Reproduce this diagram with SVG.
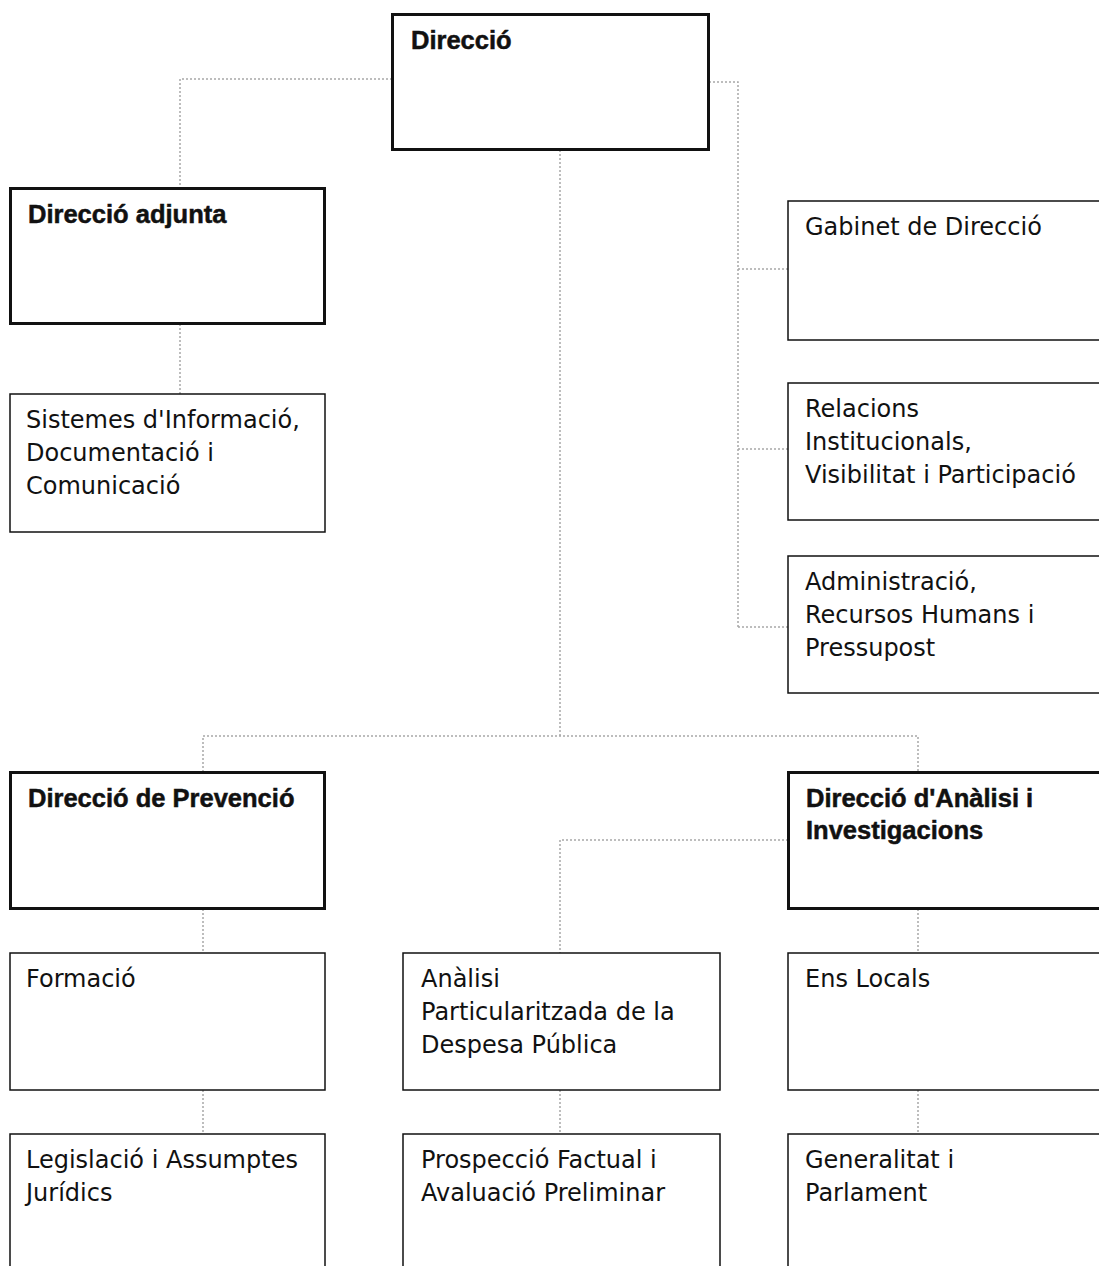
<svg xmlns="http://www.w3.org/2000/svg" width="1099" height="1266" viewBox="0 0 1099 1266">
<style>
.bg{fill:#fff}
.thick{fill:#fff;stroke:#111;stroke-width:3}
.thin{fill:#fff;stroke:#111;stroke-width:1.5}
.title{font-family:"Liberation Sans",Arial,sans-serif;font-weight:bold;font-size:25.5px;fill:#111;stroke:#111;stroke-width:0.5}
.label{font-family:"DejaVu Sans","Noto Sans",sans-serif;font-size:24px;fill:#111}
.conn{fill:none;stroke:#a8a8a8;stroke-width:1.5;stroke-dasharray:2 2}
</style>
<rect class="bg" x="0" y="0" width="1099" height="1266"/>
<g id="connectors">
<path class="conn" d="M392 79 H180 V188"/>
<path class="conn" d="M180 324 V394"/>
<path class="conn" d="M709 82 H738 V628"/>
<path class="conn" d="M738 269 H788"/>
<path class="conn" d="M738 449 H788"/>
<path class="conn" d="M738 627 H788"/>
<path class="conn" d="M560 150 V736"/>
<path class="conn" d="M203 772 V736 H918 V772"/>
<path class="conn" d="M788 840 H560 V953"/>
<path class="conn" d="M203 909 V953"/>
<path class="conn" d="M918 909 V953"/>
<path class="conn" d="M203 1090 V1134"/>
<path class="conn" d="M560 1090 V1134"/>
<path class="conn" d="M918 1090 V1134"/>
</g>
<g id="direccio">
<rect class="thick" x="392.5" y="14.5" width="316" height="135"/>
<text class="title" x="411" y="49">Direcció</text>
</g>
<g id="direccio-adjunta">
<rect class="thick" x="10.5" y="188.5" width="314" height="135"/>
<text class="title" x="28" y="223">Direcció adjunta</text>
</g>
<g id="sistemes">
<rect class="thin" x="10" y="394" width="315" height="138"/>
<text class="label" x="26" y="428">Sistemes d'Informació,</text>
<text class="label" x="26" y="461">Documentació i</text>
<text class="label" x="26" y="494">Comunicació</text>
</g>
<g id="gabinet">
<rect class="thin" x="788" y="201" width="320" height="139"/>
<text class="label" x="805" y="235">Gabinet de Direcció</text>
</g>
<g id="relacions">
<rect class="thin" x="788" y="383" width="320" height="137"/>
<text class="label" x="805" y="417">Relacions</text>
<text class="label" x="805" y="450">Institucionals,</text>
<text class="label" x="805" y="483">Visibilitat i Participació</text>
</g>
<g id="administracio">
<rect class="thin" x="788" y="556" width="320" height="137"/>
<text class="label" x="805" y="590">Administració,</text>
<text class="label" x="805" y="623">Recursos Humans i</text>
<text class="label" x="805" y="656">Pressupost</text>
</g>
<g id="direccio-prevencio">
<rect class="thick" x="10.5" y="772.5" width="314" height="136"/>
<text class="title" x="28" y="807">Direcció de Prevenció</text>
</g>
<g id="direccio-analisi">
<rect class="thick" x="788.5" y="772.5" width="320" height="136"/>
<text class="title" x="806" y="807">Direcció d'Anàlisi i</text>
<text class="title" x="806" y="839">Investigacions</text>
</g>
<g id="formacio">
<rect class="thin" x="10" y="953" width="315" height="137"/>
<text class="label" x="26" y="987">Formació</text>
</g>
<g id="analisi-particularitzada">
<rect class="thin" x="403" y="953" width="317" height="137"/>
<text class="label" x="421" y="987">Anàlisi</text>
<text class="label" x="421" y="1020">Particularitzada de la</text>
<text class="label" x="421" y="1053">Despesa Pública</text>
</g>
<g id="ens-locals">
<rect class="thin" x="788" y="953" width="320" height="137"/>
<text class="label" x="805" y="987">Ens Locals</text>
</g>
<g id="legislacio">
<rect class="thin" x="10" y="1134" width="315" height="150"/>
<text class="label" x="26" y="1168">Legislació i Assumptes</text>
<text class="label" x="26" y="1201">Jurídics</text>
</g>
<g id="prospeccio">
<rect class="thin" x="403" y="1134" width="317" height="150"/>
<text class="label" x="421" y="1168">Prospecció Factual i</text>
<text class="label" x="421" y="1201">Avaluació Preliminar</text>
</g>
<g id="generalitat">
<rect class="thin" x="788" y="1134" width="320" height="150"/>
<text class="label" x="805" y="1168">Generalitat i</text>
<text class="label" x="805" y="1201">Parlament</text>
</g>
</svg>
